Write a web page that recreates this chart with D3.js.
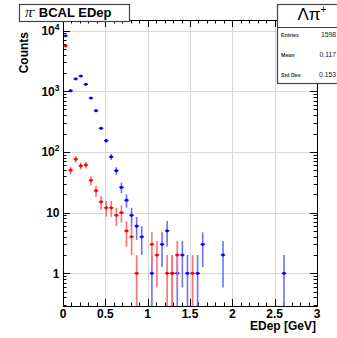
<!DOCTYPE html>
<html>
<head>
<meta charset="utf-8">
<script src="https://cdn.jsdelivr.net/npm/d3@7"></script>
<style>
  html, body { margin: 0; padding: 0; background: #fff; overflow: hidden; }
  text { font-family: "Liberation Sans", Arial, sans-serif; }
</style>
</head>
<body>
<div id="chart"></div>
<script>
// bin centres (GeV) and counts
const blueE = [0.03, 0.09, 0.15, 0.21, 0.27, 0.33, 0.39, 0.45, 0.51, 0.57, 0.63, 0.69, 0.75, 0.81, 0.87, 0.93,
  1.05, 1.17, 1.23, 1.29, 1.35, 1.41, 1.47, 1.59, 1.65, 1.89, 2.61]
const blueN = [8200, 1020, 1600, 1780, 1300, 773, 477, 245, 153, 83, 49, 26, 16, 9, 6, 4,
  1, 3, 5, 1, 1, 2, 1, 1, 3, 2, 1]
const redE = [0.03, 0.09, 0.15, 0.21, 0.27, 0.33, 0.39, 0.45, 0.51, 0.57, 0.63, 0.69, 0.75, 0.81, 0.87,
  1.05, 1.11, 1.23, 1.29, 1.35, 1.53]
const redN = [5600, 50, 76, 59, 61, 34, 23, 15, 12, 12, 9, 10, 5, 4, 1,
  3, 2, 1, 1, 2, 1]

const xTicks = [0, 0.5, 1, 1.5, 2, 2.5, 3]
const yTicks = [1, 10, 100, 1000, 10000]
const statNames = ["Entries", "Mean", "Std Dev"]
// only the part visible inside the window in the reference
const statValues = ["1598", "0.117", "0.153"]

const width = 337, height = 338
const margin = {top: 20, right: 20, bottom: 32, left: 63}

const svg = d3.select("#chart").append("svg")
  .attr("width", width).attr("height", height)
  .attr("viewBox", [0, 0, width, height])

const x = d3.scaleLinear().domain([0, 3]).range([margin.left, width - margin.right])
const y = d3.scaleLog().domain([0.289, 14900]).range([height - margin.bottom, margin.top])

const x0 = margin.left, x1 = width - margin.right
const y0 = height - margin.bottom, y1 = margin.top

svg.append("clipPath").attr("id", "plotClip")
  .append("rect").attr("x", x0).attr("y", y1).attr("width", x1 - x0).attr("height", y0 - y1)

// grid
const grid = svg.append("g").attr("stroke", "#d8d8d8").attr("stroke-width", 1)
grid.selectAll(".gx").data(xTicks.slice(1, -1)).join("line")
  .attr("x1", d => Math.round(x(d)) + 0.5).attr("x2", d => Math.round(x(d)) + 0.5)
  .attr("y1", y1).attr("y2", y0)
grid.selectAll(".gy").data(yTicks).join("line")
  .attr("x1", x0).attr("x2", x1)
  .attr("y1", d => Math.round(y(d)) + 0.5).attr("y2", d => Math.round(y(d)) + 0.5)

// axes: ROOT style, ticks pointing inwards on all four sides
const xMinor = d3.range(0, 31).map(i => i / 10)
const yMinor = []
for (let e = -1; e <= 4; e++) for (let m = 2; m <= 9; m++) {
  const v = m * Math.pow(10, e)
  if (v > y.domain()[0] && v < y.domain()[1]) yMinor.push(v)
}

const axisG = svg.append("g").attr("stroke", "#000").attr("stroke-width", 1)
const xTickLen = d => xTicks.includes(Math.round(d * 10) / 10) ? 7 : 3.5
axisG.selectAll(".xb").data(xMinor).join("line")
  .attr("x1", d => Math.round(x(d)) + 0.5).attr("x2", d => Math.round(x(d)) + 0.5)
  .attr("y1", y0).attr("y2", d => y0 - xTickLen(d))
axisG.selectAll(".xt").data(xMinor).join("line")
  .attr("x1", d => Math.round(x(d)) + 0.5).attr("x2", d => Math.round(x(d)) + 0.5)
  .attr("y1", y1).attr("y2", d => y1 + xTickLen(d))
const yAll = yTicks.map(v => ({v, len: 7})).concat(yMinor.map(v => ({v, len: 3.5})))
axisG.selectAll(".yl").data(yAll).join("line")
  .attr("x1", x0).attr("x2", d => x0 + d.len)
  .attr("y1", d => Math.round(y(d.v)) + 0.5).attr("y2", d => Math.round(y(d.v)) + 0.5)
axisG.selectAll(".yr").data(yAll).join("line")
  .attr("x1", x1).attr("x2", d => x1 - d.len)
  .attr("y1", d => Math.round(y(d.v)) + 0.5).attr("y2", d => Math.round(y(d.v)) + 0.5)

svg.append("rect")
  .attr("x", x0 + 0.5).attr("y", y1 + 0.5).attr("width", x1 - x0).attr("height", y0 - y1)
  .attr("fill", "none").attr("stroke", "#000")

// tick labels
svg.append("g").selectAll("text").data(xTicks).join("text")
  .attr("x", d => x(d)).attr("y", 317.5)
  .attr("text-anchor", "middle")
  .attr("font-size", 12).attr("font-weight", "bold")
  .text(d => d3.format("~g")(d))

const yLab = svg.append("g").selectAll("text").data(yTicks).join("text")
  .attr("x", 59.5).attr("y", d => y(d) + 4.3)
  .attr("text-anchor", "end")
  .attr("font-size", 12).attr("font-weight", "bold")
yLab.each(function(d) {
  const t = d3.select(this)
  const exp = Math.round(Math.log10(d))
  if (exp <= 1) { t.text(String(d)); return }
  t.append("tspan").text("10")
  t.append("tspan").attr("dy", -5).attr("font-size", 8.5).text(String(exp))
})

// axis titles
svg.append("text")
  .attr("x", 316).attr("y", 330)
  .attr("text-anchor", "end")
  .attr("font-size", 12).attr("font-weight", "bold")
  .text("EDep [GeV]")
svg.append("text")
  .attr("transform", "translate(28,32) rotate(-90)")
  .attr("text-anchor", "end")
  .attr("font-size", 12).attr("font-weight", "bold")
  .text("Counts")

// histograms with sqrt(N) error bars
function drawSeries(energies, counts, color, barColor) {
  const pts = energies.map((e, i) => ({e, n: counts[i]}))
  const g = svg.append("g").attr("clip-path", "url(#plotClip)")
  g.selectAll("line.err").data(pts).join("line")
    .attr("class", "err")
    .attr("x1", d => x(d.e)).attr("x2", d => x(d.e))
    .attr("y1", d => y(d.n + Math.sqrt(d.n)))
    .attr("y2", d => d.n - Math.sqrt(d.n) > 0 ? y(d.n - Math.sqrt(d.n)) : y0 + 2)
    .attr("stroke", barColor).attr("stroke-width", 1.6)
  g.selectAll("line.hz").data(pts).join("line")
    .attr("class", "hz")
    .attr("x1", d => x(d.e) - 2.2).attr("x2", d => x(d.e) + 2.2)
    .attr("y1", d => y(d.n)).attr("y2", d => y(d.n))
    .attr("stroke", color).attr("stroke-width", 1.2)
  g.selectAll("circle").data(pts).join("circle")
    .attr("cx", d => x(d.e)).attr("cy", d => y(d.n))
    .attr("r", 1.6).attr("fill", color)
}
drawSeries(blueE, blueN, "#0000ff", "#7070ff")
drawSeries(redE, redN, "#ff0000", "#ff7070")

// title box
svg.append("rect")
  .attr("x", 19.5).attr("y", 4.5).attr("width", 110).attr("height", 17)
  .attr("fill", "#fff").attr("stroke", "#444").attr("stroke-width", 1.2)
const title = svg.append("text").attr("x", 25).attr("y", 16.7)
  .attr("font-size", 13).attr("font-weight", "bold")
title.append("tspan").attr("font-family", "'Liberation Serif', 'DejaVu Serif', serif")
  .attr("font-weight", "normal").attr("font-style", "italic").attr("font-size", 15).text("π")
title.append("tspan").attr("dy", -5).attr("font-size", 8).text("-")
title.append("tspan").attr("dy", 5).text(" BCAL EDep")

// stats box
const stats = svg.append("g")
stats.append("rect")
  .attr("x", 277.5).attr("y", 4.5).attr("width", 70).attr("height", 79)
  .attr("fill", "#fff").attr("stroke", "#444").attr("stroke-width", 1.2)
stats.append("line")
  .attr("x1", 277.5).attr("x2", 347).attr("y1", 27.5).attr("y2", 27.5)
  .attr("stroke", "#444").attr("stroke-width", 1)
const head = stats.append("text").attr("x", 297.5).attr("y", 20)
  .attr("font-family", "'Liberation Serif', 'DejaVu Serif', serif").attr("font-size", 17)
head.append("tspan").text("Λπ")
head.append("tspan").attr("dy", -7).attr("font-size", 10).text("+")
stats.selectAll("text.name").data(statNames).join("text")
  .attr("class", "name")
  .attr("x", 281).attr("y", (d, i) => 36.5 + i * 20)
  .attr("font-size", 5.3).attr("font-weight", "bold").attr("fill", "#333")
  .text(d => d)
stats.selectAll("text.val").data(statValues).join("text")
  .attr("class", "val")
  .attr("x", 336).attr("y", (d, i) => 36.5 + i * 20)
  .attr("text-anchor", "end")
  .attr("font-size", 6.8).attr("fill", "#222")
  .text(d => d)
</script>
</body>
</html>
